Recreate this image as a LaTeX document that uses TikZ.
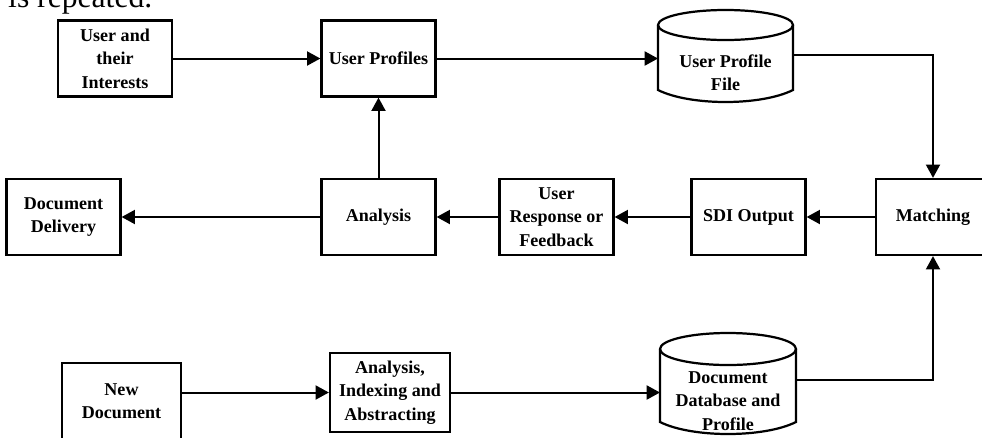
\documentclass[tikz,border=0pt]{standalone}
\usepackage{fontspec}
\setmainfont{Liberation Serif}
\usetikzlibrary{arrows.meta}

\begin{document}
\begin{tikzpicture}[x=0.03cm,y=-0.03cm,
        block/.style={draw,line width=1.9pt,minimum width=3.42cm,minimum height=2.28cm,align=center,inner sep=2pt,font=\bfseries\fontsize{15.4}{20}\selectfont},
        drum/.style={minimum width=4.05cm,align=center,inner sep=0pt,outer sep=0pt,font=\bfseries\fontsize{15.4}{20}\selectfont},
        drumline/.style={line width=1.9pt},
        flow/.style={line width=1.7pt,-{Triangle[length=0.4cm,width=0.42cm]}}]

        \useasboundingbox (0,0) rectangle (982,437);

        % end of the text line above the figure
        \node[anchor=base west,inner sep=0pt,font=\fontsize{27}{30}\selectfont] (pagetext) at (8,7) {is repeated.};

        % draw the top row
        \node[block] (interests) at (115,58.5) {User and\\their\\Interests};
        \node[block] (profiles) at (378.5,58.5) {User Profiles};
        \node[drum] (profilefile) at (725.5,73) {User Profile\\File};

        % draw the user profile drum
        \draw[drumline] (658,25) -- (658,90) .. controls (690,106) and (761,106) .. (793,90) -- (793,25);
        \draw[drumline] (725.5,25) ellipse [x radius=2.025cm,y radius=0.45cm];

        % draw the middle row
        \node[block] (matching) at (933,217) {Matching};
        \node[block] (sdi) at (748.5,217) {SDI Output};
        \node[block] (response) at (556.5,217) {User\\Response or\\Feedback};
        \node[block] (analysis) at (378.5,217) {Analysis};
        \node[block] (delivery) at (63.5,217) {Document\\Delivery};

        % draw the bottom row
        \node[block,minimum width=3.57cm] (newdoc) at (121.5,401) {New\\Document};
        \node[block,minimum width=3.6cm,minimum height=2.37cm] (indexing) at (390,392.5) {Analysis,\\Indexing and\\Abstracting};
        \node[drum,minimum width=4.08cm] (database) at (728,401) {Document\\Database and\\Profile};

        % draw the document database drum
        \draw[drumline] (660,349) -- (660,422) .. controls (692,438) and (764,438) .. (796,422) -- (796,349);
        \draw[drumline] (728,349) ellipse [x radius=2.04cm,y radius=0.48cm];

        % draw arrows of the top row
        \draw[flow] (interests) -- (profiles);
        \draw[flow] (profiles) -- (profiles -| profilefile.west);
        \draw[flow] ([yshift=0.54cm]profilefile.east) -| (matching);

        % draw arrows of the middle row
        \draw[flow] (matching) -- (sdi);
        \draw[flow] (sdi) -- (response);
        \draw[flow] (response) -- (analysis);
        \draw[flow] (analysis) -- (delivery);
        \draw[flow] (analysis) -- (profiles);

        % draw arrows of the bottom row
        \draw[flow] (newdoc.east |- indexing) -- (indexing);
        \draw[flow] (indexing) -- (indexing -| database.west);
        \draw[flow] ([yshift=0.63cm]database.east) -| (matching);

    \end{tikzpicture}
\end{document}
